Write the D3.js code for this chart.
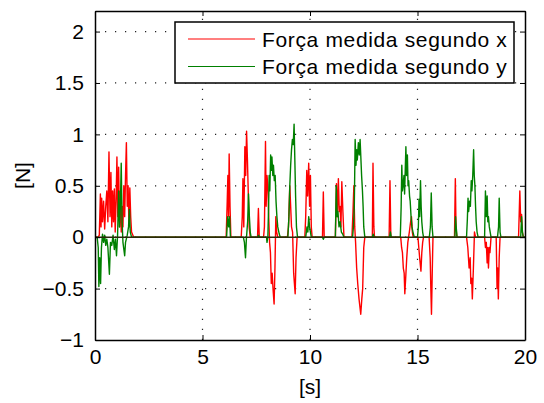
<!DOCTYPE html>
<html>
<head>
<meta charset="utf-8">
<script src="https://cdn.jsdelivr.net/npm/d3@7"></script>
<style>
  body { margin: 0; background: #fff; }
  text { font-family: "Liberation Sans", Arial, Helvetica, sans-serif; fill: #000; }
</style>
</head>
<body>
<div id="chart"></div>
<script>
// measured force, x component  [t (s), F (N)]
var forceX = [
  [0,0],[0.15,0],[0.2,0.02],[0.25,0.42],[0.28,0.1],[0.31,0.38],[0.35,0.15],[0.4,0.35],[0.45,0.08],[0.5,0.3],
  [0.55,0.45],[0.6,0.15],[0.65,0.83],[0.7,0.2],[0.74,0.63],[0.78,0.1],[0.82,0.45],[0.86,0.15],[0.9,0.47],[0.94,0.05],
  [0.98,0.35],[1.02,0.78],[1.06,0.2],[1.1,0.68],[1.14,0.1],[1.18,0.45],[1.22,0.05],[1.26,0.3],[1.3,0.1],[1.34,0.5],
  [1.38,0.2],[1.42,0.6],[1.46,0.92],[1.5,0.3],[1.54,0.5],[1.58,0.1],[1.62,0.48],[1.66,0.2],[1.7,0.05],[1.8,0],
  [6.1,0],[6.15,0.35],[6.18,0.6],[6.21,0.2],[6.24,0.81],[6.28,0.3],[6.32,0],
  [6.8,0],[6.85,0.2],[6.88,0.57],[6.92,0.1],[6.97,0.88],[7.01,0.6],[7.05,1.03],[7.09,0.75],[7.13,0.42],[7.17,0.1],[7.22,0],
  [7.56,0],[7.6,0.28],[7.64,0],[7.84,0],[7.88,0.1],[7.93,0.93],[7.96,0.3],[8.0,0.6],[8.04,0.5],[8.08,0.2],[8.12,-0.05],
  [8.16,-0.15],[8.2,-0.45],[8.24,-0.35],[8.28,-0.5],[8.33,-0.65],[8.37,-0.3],[8.41,0.2],[8.45,0.05],[8.5,0],
  [8.95,0],[9.0,0.1],[9.06,0.5],[9.1,0.3],[9.14,0.1],[9.19,0.05],[9.24,-0.35],[9.31,-0.55],[9.35,-0.2],[9.4,0],
  [9.76,0],[9.8,0.2],[9.85,0.65],[9.89,0.4],[9.94,0.72],[9.98,0.3],[10.02,0.6],[10.06,0.1],[10.1,0],
  [10.58,0],[10.62,0.44],[10.66,0],
  [11.18,0],[11.23,0.52],[11.27,0.2],[11.32,0.57],[11.36,0.25],[11.4,0.3],[11.44,0.1],[11.48,0.54],[11.53,0.25],[11.58,0],
  [11.95,0],[12.0,0.25],[12.04,0.5],[12.08,0.1],[12.12,-0.05],[12.17,-0.3],[12.22,-0.45],[12.28,-0.6],[12.36,-0.75],
  [12.41,-0.6],[12.45,-0.5],[12.5,-0.1],[12.55,0],
  [12.9,0],[12.93,0.72],[12.97,0.1],[13.0,0],
  [13.68,0],[13.72,0.55],[13.76,0],
  [14.22,0],[14.26,-0.1],[14.3,-0.15],[14.34,-0.3],[14.38,-0.35],[14.41,-0.55],[14.45,-0.4],[14.5,-0.2],[14.55,-0.05],
  [14.62,0.05],[14.68,0.15],[14.72,0.2],[14.76,0.05],[14.8,0],
  [15.02,0],[15.06,-0.1],[15.1,-0.2],[15.16,-0.33],[15.2,-0.15],[15.24,-0.05],[15.28,0],
  [15.54,0],[15.59,-0.2],[15.62,-0.5],[15.65,-0.75],[15.69,-0.3],[15.72,0],
  [16.72,0],[16.76,0.57],[16.79,0.1],[16.83,0],
  [17.28,0],[17.34,-0.1],[17.4,-0.3],[17.45,-0.2],[17.48,-0.45],[17.52,-0.4],[17.55,-0.6],[17.6,-0.3],[17.65,0.05],[17.7,0],
  [18.12,0],[18.16,-0.1],[18.2,-0.05],[18.24,-0.25],[18.27,-0.1],[18.3,-0.3],[18.34,-0.1],[18.37,-0.15],[18.42,0],
  [18.66,0],[18.7,-0.5],[18.73,-0.3],[18.76,-0.6],[18.8,-0.2],[18.84,0],
  [19.7,0],[19.76,0.45],[19.8,0.15],[19.84,0.22],[19.88,0.05],[19.92,0],[20,0]
];

// measured force, y component  [t (s), F (N)]
var forceY = [
  [0,0],[0.1,0],[0.15,-0.1],[0.18,-0.48],[0.22,-0.2],[0.26,-0.45],[0.3,-0.1],[0.35,0.03],[0.4,-0.05],[0.45,0.02],
  [0.5,-0.08],[0.55,-0.02],[0.6,-0.1],[0.67,-0.36],[0.72,-0.05],[0.78,-0.08],[0.84,0.02],[0.9,-0.12],[0.95,-0.02],
  [1.0,-0.18],[1.05,0.02],[1.1,0.45],[1.14,0.1],[1.18,0.3],[1.22,0.72],[1.26,0.15],[1.3,-0.05],[1.38,-0.18],[1.42,-0.05],
  [1.5,0.02],[1.56,0.1],[1.6,0.27],[1.64,0.05],[1.7,0],[1.8,0],
  [6.12,0],[6.17,0.2],[6.22,0.1],[6.26,0.2],[6.3,0],
  [6.9,0],[6.95,-0.05],[7.0,-0.2],[7.04,-0.02],[7.1,0.15],[7.14,0.42],[7.18,0.2],[7.22,0.05],[7.26,0],
  [7.58,0],[7.6,0.02],[7.64,0],[7.98,0],[8.0,-0.05],[8.04,0],[8.08,0.35],[8.1,0.6],[8.13,0.45],[8.17,0.8],[8.2,0.65],
  [8.23,0.78],[8.27,0.6],[8.3,0.7],[8.34,0.55],[8.38,0.6],[8.42,0.35],[8.46,0.2],[8.5,0.1],[8.57,0.03],[8.62,0],
  [8.97,0],[9.02,0.2],[9.06,0.5],[9.1,0.7],[9.14,0.85],[9.18,0.95],[9.22,0.9],[9.26,1.1],[9.3,0.7],[9.33,0.4],[9.37,0.1],[9.42,0],
  [9.8,0],[9.86,0.1],[9.9,0.05],[9.94,0.2],[9.98,0.1],[10.02,0.05],[10.06,0],
  [10.58,0],[10.62,-0.02],[10.66,0],
  [11.18,0],[11.22,0.5],[11.26,0.2],[11.3,0.25],[11.35,0.1],[11.4,0.15],[11.46,0.05],[11.52,0.03],[11.58,0],
  [11.98,0],[12.02,0.1],[12.06,0.3],[12.1,0.95],[12.14,0.7],[12.17,0.85],[12.2,0.75],[12.25,0.92],[12.29,0.8],
  [12.33,0.95],[12.37,0.75],[12.4,0.6],[12.44,0.45],[12.47,0.3],[12.5,0.1],[12.55,0],
  [12.9,0],[12.94,0.03],[12.98,0],
  [13.7,0],[13.74,0.05],[13.78,0],
  [14.2,0],[14.24,0.3],[14.27,0.7],[14.3,0.45],[14.33,0.5],[14.37,0.6],[14.4,0.42],[14.43,0.65],[14.46,0.88],[14.49,0.6],
  [14.53,0.8],[14.56,0.5],[14.59,0.55],[14.63,0.4],[14.66,0.35],[14.7,0.2],[14.74,0.1],[14.79,0.05],[14.85,0],
  [15.0,0],[15.04,0.1],[15.07,0.37],[15.1,0.2],[15.14,0.55],[15.17,0.3],[15.2,0.15],[15.24,0.05],[15.28,0],
  [15.55,0],[15.6,0.1],[15.64,0.43],[15.68,0.1],[15.72,0],
  [16.74,0],[16.77,0.2],[16.8,0.1],[16.84,0],
  [17.28,0],[17.32,0.18],[17.35,0.38],[17.38,0.25],[17.42,0.35],[17.46,0.3],[17.5,0.55],[17.53,0.45],[17.57,0.6],
  [17.61,0.85],[17.64,0.6],[17.67,0.5],[17.7,0.3],[17.73,0.15],[17.77,0.05],[17.82,0],
  [18.12,0],[18.16,0.45],[18.2,0.2],[18.24,0.4],[18.27,0.15],[18.3,0.2],[18.34,0.1],[18.38,0.05],[18.42,0],
  [18.72,0],[18.77,0.1],[18.8,0.38],[18.84,0.05],[18.88,0],
  [19.8,0],[19.84,0.2],[19.88,0.05],[19.92,0],[20,0]
];

var xTicks = [0, 5, 10, 15, 20];
var yTicks = [-1, -0.5, 0, 0.5, 1, 1.5, 2];
var yTickLabels = ["\u22121", "\u22120.5", "0", "0.5", "1", "1.5", "2"];
var legendNames = ["For\u00e7a medida segundo x", "For\u00e7a medida segundo y"];
var seriesColors = ["#ff0000", "#008000"];

var svgWidth = 544, svgHeight = 403;
var plotLeft = 95, plotRight = 525, plotTop = 11, plotBottom = 340;
var fontSize = "21px";

var x = d3.scaleLinear().domain([0, 20]).range([plotLeft, plotRight]);
var y = d3.scaleLinear().domain([-1, 2.2]).range([plotBottom, plotTop]);

var svg = d3.select("#chart").append("svg")
    .attr("width", svgWidth)
    .attr("height", svgHeight);

svg.append("defs").append("clipPath").attr("id", "clip")
  .append("rect")
    .attr("x", plotLeft).attr("y", plotTop)
    .attr("width", plotRight - plotLeft).attr("height", plotBottom - plotTop);

// dotted grid
var grid = svg.append("g").attr("class", "grid");
grid.selectAll("line.gx")
    .data(xTicks.slice(1, -1))
    .enter().append("line")
      .attr("class", "gx")
      .attr("x1", function(d){ return x(d); })
      .attr("x2", function(d){ return x(d); })
      .attr("y1", plotBottom).attr("y2", plotTop)
      .attr("stroke", "#222")
      .attr("stroke-width", 1.2)
      .attr("stroke-dasharray", "1.2,8.8");
grid.selectAll("line.gy")
    .data(yTicks.slice(1))
    .enter().append("line")
      .attr("class", "gy")
      .attr("y1", function(d){ return y(d); })
      .attr("y2", function(d){ return y(d); })
      .attr("x1", plotLeft).attr("x2", plotRight)
      .attr("stroke", "#222")
      .attr("stroke-width", 1.2)
      .attr("stroke-dasharray", "1.2,8.8");

var line = d3.line()
    .x(function(d){ return x(d[0]); })
    .y(function(d){ return y(d[1]); })
    .curve(d3.curveLinear);

var plot = svg.append("g").attr("clip-path", "url(#clip)");
plot.selectAll("path.series")
    .data([forceX, forceY])
    .enter().append("path")
      .attr("class", "series")
      .attr("fill", "none")
      .attr("stroke", function(d, i){ return seriesColors[i]; })
      .attr("stroke-width", 1.4)
      .attr("stroke-linejoin", "round")
      .attr("d", function(d){ return line(d); });

// where both series sit at zero the overlap reads as a dark line
plot.append("line")
    .attr("x1", plotLeft).attr("x2", plotRight)
    .attr("y1", y(0)).attr("y2", y(0))
    .attr("stroke", "#2a2a08")
    .attr("stroke-width", 1.6);

// axes box with inward ticks on all sides
var tickLen = 5;
var axisG = svg.append("g").attr("class", "axes");
axisG.append("g")
    .attr("transform", "translate(0," + plotBottom + ")")
    .call(d3.axisBottom(x).tickValues(xTicks).tickSizeInner(-tickLen).tickSizeOuter(0).tickPadding(9));
axisG.append("g")
    .attr("transform", "translate(0," + plotTop + ")")
    .call(d3.axisTop(x).tickValues(xTicks).tickSizeInner(-tickLen).tickSizeOuter(0).tickFormat(""));
axisG.append("g")
    .attr("transform", "translate(" + plotLeft + ",0)")
    .call(d3.axisLeft(y).tickValues(yTicks).tickSizeInner(-tickLen).tickSizeOuter(0).tickPadding(11)
      .tickFormat(function(d, i){ return yTickLabels[i]; }));
axisG.append("g")
    .attr("transform", "translate(" + plotRight + ",0)")
    .call(d3.axisRight(y).tickValues(yTicks).tickSizeInner(-tickLen).tickSizeOuter(0).tickFormat(""));
axisG.selectAll(".domain").attr("stroke", "#000").attr("stroke-width", 1.5);
axisG.selectAll(".tick line").attr("stroke", "#000");
axisG.selectAll(".tick text")
    .style("font-family", "'Liberation Sans', Arial, sans-serif")
    .style("font-size", fontSize)
    .attr("fill", "#000");

// axis labels
svg.append("text")
    .attr("x", (plotLeft + plotRight) / 2)
    .attr("y", 394)
    .attr("text-anchor", "middle")
    .style("font-size", fontSize)
    .text("[s]");
svg.append("text")
    .attr("transform", "translate(30," + (plotTop + plotBottom) / 2 + ") rotate(-90)")
    .attr("text-anchor", "middle")
    .style("font-size", fontSize)
    .text("[N]");

// legend
var legend = svg.append("g").attr("class", "legend");
legend.append("rect")
    .attr("x", 175).attr("y", 22)
    .attr("width", 339).attr("height", 61)
    .attr("fill", "#fff")
    .attr("stroke", "#000")
    .attr("stroke-width", 1.5);
var items = legend.selectAll("g.item")
    .data(legendNames)
    .enter().append("g")
      .attr("class", "item")
      .attr("transform", function(d, i){ return "translate(0," + (39 + i * 27.5) + ")"; });
items.append("line")
    .attr("x1", 188).attr("x2", 255)
    .attr("y1", 0).attr("y2", 0)
    .attr("stroke", function(d, i){ return seriesColors[i]; })
    .attr("stroke-width", 1.2);
items.append("text")
    .attr("x", 262)
    .attr("y", 7.5)
    .style("font-size", fontSize)
    .style("letter-spacing", "0.65px")
    .text(function(d){ return d; });
</script>
</body>
</html>
